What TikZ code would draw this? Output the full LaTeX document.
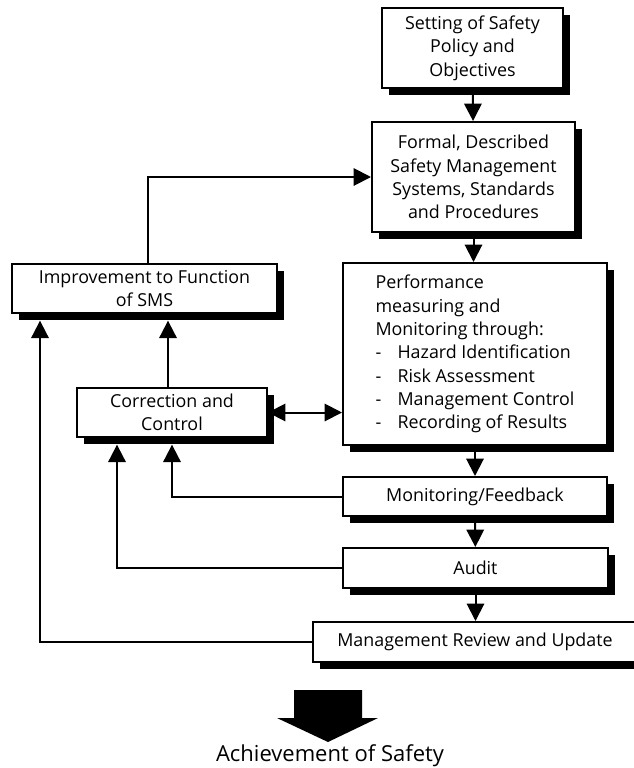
\documentclass[tikz,border=0pt]{standalone}
\usepackage{fontspec}
\setmainfont{Open Sans}
\usetikzlibrary{arrows.meta, calc, shadows}

\begin{document}
\begin{tikzpicture}[x=0.75pt, y=-0.75pt, line width=1.5pt,
    stage/.style={draw, fill=white, inner sep=0pt, align=center,
      font=\fontsize{13.4}{17.5}\selectfont,
      drop shadow={shadow xshift=5pt, shadow yshift=-5pt, opacity=1, fill=black}},
    link/.style={-{Triangle[width=13pt,length=13pt]}},
    back/.style={link, shorten >=5pt}]
        \useasboundingbox (0,0) rectangle (633,768);
        % main chain
        \node (policy) [stage, minimum width=135.75pt, minimum height=60pt] at (472.5,48)
            {Setting of Safety\\Policy and\\Objectives};
        \node (formal) [stage, minimum width=152.25pt, minimum height=82.5pt] at (473.5,177)
            {Formal, Described\\Safety Management\\Systems, Standards\\and Procedures};
        \node (perf) [stage, align=left, minimum width=198pt, minimum height=136.5pt] at (475,354)
            {Performance\\measuring and\\Monitoring through:\\
             \makebox[16.5pt][l]{-}Hazard Identification\\
             \makebox[16.5pt][l]{-}Risk Assessment\\
             \makebox[16.5pt][l]{-}Management Control\\
             \makebox[16.5pt][l]{-}Recording of Results};
        \node (monitor) [stage, minimum width=198pt, minimum height=29.25pt] at (475,496.5)
            {Monitoring/Feedback};
        \node (audit) [stage, minimum width=198.75pt, minimum height=30pt] at (475.5,568)
            {Audit};
        \node (review) [stage, minimum width=243pt, minimum height=30pt] at (475,642)
            {Management Review and Update};
        % left side
        \node (improve) [stage, minimum width=198.75pt, minimum height=36.75pt] at (144.5,288.5)
            {Improvement to Function\\of SMS};
        \node (correct) [stage, minimum width=142.5pt, minimum height=36.75pt] at (172,412.5)
            {Correction and\\Control};

        \draw[link] (policy) -- (formal);
        \draw[link] (formal) -- (perf.north -| formal);
        \draw[link] (perf) -- (monitor);
        \draw[link] (monitor) -- (audit);
        \draw[link] (audit) -- (review.north -| audit);

        \draw[link] ($(improve.north)+(3.5,0)$) |- (formal.west);
        \draw[back] ($(correct.north)+(-4,0)$) -- ($(improve.south)+(23.5,0)$);
        \draw[{Triangle[width=13pt,length=13pt]}-{Triangle[width=13pt,length=13pt]}]
            (correct.east) -- (correct.east -| perf.west);
        \draw[back] (monitor.west) -| (correct.south);
        \draw[back] (audit.west) -| ($(correct.south)+(-55,0)$);
        \draw[back] (review.west) -| ($(improve.south)+(-104.5,0)$);

        % outcome
        \fill (294,690) -- (362,690) -- (362,718) -- (378,718) -- (328,742)
            -- (277,718) -- (294,718) -- cycle;
        \node (goal) at (330,756) {\fontsize{16.5}{18}\selectfont Achievement of Safety};
\end{tikzpicture}
\end{document}
